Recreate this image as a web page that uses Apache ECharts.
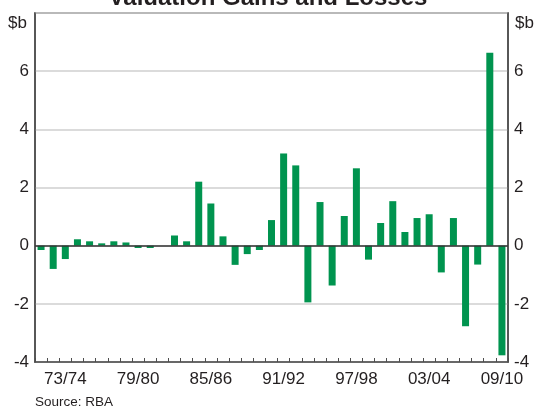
<!DOCTYPE html>
<html>
<head>
<meta charset="utf-8">
<script src="https://cdn.jsdelivr.net/npm/echarts@6/dist/echarts.min.js"></script>
<style>
  html,body{margin:0;padding:0;background:#fff}
  #chart{width:536px;height:410px}
</style>
</head>
<body>
<div id="chart"></div>
<script>
// financial years 1971/72 .. 2009/10
var years = ['71/72','72/73','73/74','74/75','75/76','76/77','77/78','78/79','79/80','80/81',
  '81/82','82/83','83/84','84/85','85/86','86/87','87/88','88/89','89/90','90/91',
  '91/92','92/93','93/94','94/95','95/96','96/97','97/98','98/99','99/00','00/01',
  '01/02','02/03','03/04','04/05','05/06','06/07','07/08','08/09','09/10']

// valuation gains/losses, $b
var valuation = [-0.15,-0.8,-0.46,0.22,0.15,0.08,0.15,0.11,-0.08,-0.08,
  0,0.35,0.15,2.2,1.45,0.32,-0.66,-0.29,-0.15,0.88,
  3.17,2.76,-1.95,1.5,-1.37,1.02,2.66,-0.48,0.78,1.53,
  0.47,0.95,1.08,-0.92,0.95,-2.77,-0.65,6.63,-3.77]

var yTicks = [-4,-2,0,2,4,6]

var txtColor = '#231f20'
var font = 'Liberation Sans'

var chart = echarts.init(document.getElementById('chart'))

function yAxisOpt(pos){
  return {
    type:'value',
    position:pos,
    min:-4,
    max:8,
    interval:2,
    axisLine:{show:true,lineStyle:{color:'#4d4d4d',width:1.5}},
    axisTick:{show:false},
    splitLine:{show:pos==='left',lineStyle:{color:'#cfcfcf',width:1.5}},
    axisLabel:{
      color:txtColor,
      fontFamily:font,
      fontSize:17,
      margin:6,
      formatter:function(v){
        return yTicks.indexOf(v) >= 0 ? String(v) : ''
      }
    }
  }
}

var option = {
  animation:false,
  title:{
    text:'Valuation Gains and Losses',
    left:'center',
    top:-14,
    padding:0,
    textStyle:{color:txtColor,fontFamily:font,fontSize:24,fontWeight:'bold'}
  },
  grid:{
    left:35,
    right:28,
    top:13,
    bottom:48,
    show:true,
    borderColor:'#4d4d4d',
    borderWidth:1.5
  },
  xAxis:{
    type:'category',
    data:years,
    axisLine:{onZero:false,lineStyle:{color:'#4d4d4d',width:1.5}},
    axisTick:{show:true,inside:true,length:4,interval:0,lineStyle:{color:'#4d4d4d'}},
    axisLabel:{
      color:txtColor,
      fontFamily:font,
      fontSize:17,
      margin:9,
      interval:function(i){ return i % 6 === 2 }
    }
  },
  yAxis:[yAxisOpt('left'),yAxisOpt('right')],
  series:[{
    type:'bar',
    data:valuation,
    barWidth:7,
    itemStyle:{color:'#00944f'},
    markLine:{
      silent:true,
      symbol:['none','none'],
      label:{show:false},
      lineStyle:{color:'#333',type:'solid',width:1.5},
      data:[{yAxis:0}]
    }
  }],
  graphic:[
    {type:'text',left:8,top:15,style:{text:'$b',fill:txtColor,font:'17px "Liberation Sans"'}},
    {type:'text',left:515,top:15,style:{text:'$b',fill:txtColor,font:'17px "Liberation Sans"'}},
    {type:'text',left:35,top:395,style:{text:'Source: RBA',fill:txtColor,font:'13.5px "Liberation Sans"'}}
  ]
}

chart.setOption(option)
</script>
</body>
</html>
